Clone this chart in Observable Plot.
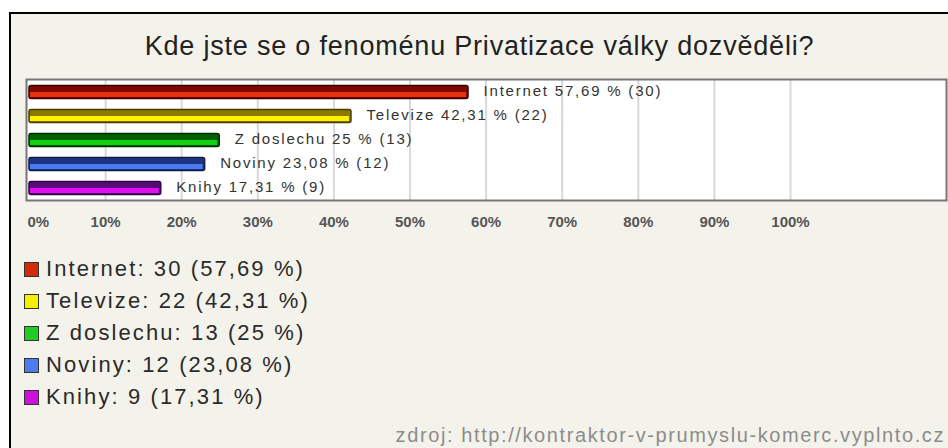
<!DOCTYPE html>
<html>
<head>
<meta charset="utf-8">
<script src="https://cdn.jsdelivr.net/npm/d3@7"></script>
<script src="https://cdn.jsdelivr.net/npm/@observablehq/plot@0.6"></script>
<style>
  html, body { margin: 0; padding: 0; background: #fff; }
  #root { position: relative; width: 948px; height: 448px; overflow: hidden; background: #fff; font-family: "Liberation Sans", Arial, sans-serif; }
  #panel { position: absolute; left: 9px; top: 12px; width: 960px; height: 460px; border-left: 2px solid #000; border-top: 2px solid #000; background: #f4f3eb; }
  #title { position: absolute; left: 11px; width: 937px; top: 31px; text-align: center; font-size: 27px; letter-spacing: 0.8px; line-height: 30px; color: #222; white-space: nowrap; }
  #chart { position: absolute; left: 0; top: 70px; }
  #chart g[aria-label="text"] text { letter-spacing: 1.8px; }
  #legend { position: absolute; left: 24px; top: 253px; }
  .row { display: flex; align-items: center; height: 32px; font-size: 22px; letter-spacing: 2.1px; color: #2a2a2a; }
  .sw { width: 13px; height: 13px; border: 1px solid #333; margin-right: 7px; box-sizing: content-box; }
  #source { position: absolute; right: 3px; top: 424px; font-size: 20px; letter-spacing: 1.6px; color: #8c8c8c; white-space: nowrap; }
</style>
</head>
<body>
<div id="root">
  <div id="panel"></div>
  <div id="title">Kde jste se o fenoménu Privatizace války dozvěděli?</div>
  <div id="chart"></div>
  <div id="legend"></div>
  <div id="source">zdroj: http://kontraktor-v-prumyslu-komerc.vyplnto.cz</div>
</div>
<script>
const categories = ["Internet", "Televize", "Z doslechu", "Noviny", "Knihy"];
const counts = [30, 22, 13, 12, 9];
const percents = [57.69, 42.31, 25, 23.08, 17.31];
const percentLabels = ["57,69", "42,31", "25", "23,08", "17,31"];
const darkColors = ["#7d0a00", "#8a7a00", "#006000", "#1e3480", "#5a0a78"];
const brightColors = ["#e8300c", "#fff200", "#11d211", "#4a7af2", "#e010f0"];
const outlineColors = ["#3c0000", "#4a4000", "#003000", "#101c4a", "#300040"];
const legendColors = ["#d42a0a", "#f8ef00", "#22cc22", "#4d7cf0", "#cc10dd"];
const xTicks = [0, 10, 20, 30, 40, 50, 60, 70, 80, 90, 100];

const data = categories.map((c, i) => ({
  cat: c,
  pct: percents[i],
  dark: darkColors[i],
  bright: brightColors[i],
  outline: outlineColors[i],
  label: `${c} ${percentLabels[i]} % (${counts[i]})`
}));

const chart = Plot.plot({
  width: 948,
  height: 160,
  marginLeft: 29,
  marginRight: 2,
  marginTop: 9,
  marginBottom: 30,
  x: { domain: [0, 120.5], axis: null, label: null },
  y: { domain: categories, axis: null, padding: 0 },
  style: { background: "transparent", overflow: "visible" },
  marks: [
    Plot.frame({ fill: "#fff", insetLeft: -3 }),
    Plot.ruleX(xTicks.slice(1), { stroke: "#d9d9d9", strokeWidth: 2 }),
    Plot.barX(data, { x: "pct", y: "cat", fill: "dark", stroke: "outline", strokeWidth: 1.5, insetTop: 5.5, insetBottom: 5.5, rx: 2 }),
    Plot.barX(data, { x: "pct", y: "cat", fill: "bright", insetTop: 12, insetBottom: 7, insetLeft: 1, insetRight: 2 }),
    Plot.text(data, { x: "pct", y: "cat", text: "label", textAnchor: "start", dx: 15, dy: -1, fill: "#333", fontSize: 15, fontFamily: "Liberation Sans, Arial, sans-serif" }),
    Plot.frame({ stroke: "#777", strokeWidth: 2, insetLeft: -3 }),
    Plot.axisX(xTicks.slice(0, 1), { label: null, tickFormat: d => d + "%", tickSize: 0, tickPadding: 16, textAnchor: "start", fill: "#555", fontSize: 15, fontWeight: "bold", fontFamily: "Liberation Sans, Arial, sans-serif", dx: -2 }),
    Plot.axisX(xTicks.slice(1), { label: null, tickFormat: d => d + "%", tickSize: 0, tickPadding: 16, fill: "#555", fontSize: 15, fontWeight: "bold", fontFamily: "Liberation Sans, Arial, sans-serif" })
  ]
});
document.getElementById("chart").appendChild(chart);

const legend = document.getElementById("legend");
categories.forEach((c, i) => {
  const row = document.createElement("div");
  row.className = "row";
  const sw = document.createElement("div");
  sw.className = "sw";
  sw.style.background = legendColors[i];
  row.appendChild(sw);
  const t = document.createElement("span");
  t.textContent = `${c}: ${counts[i]} (${percentLabels[i]} %)`;
  row.appendChild(t);
  legend.appendChild(row);
});
</script>
</body>
</html>
